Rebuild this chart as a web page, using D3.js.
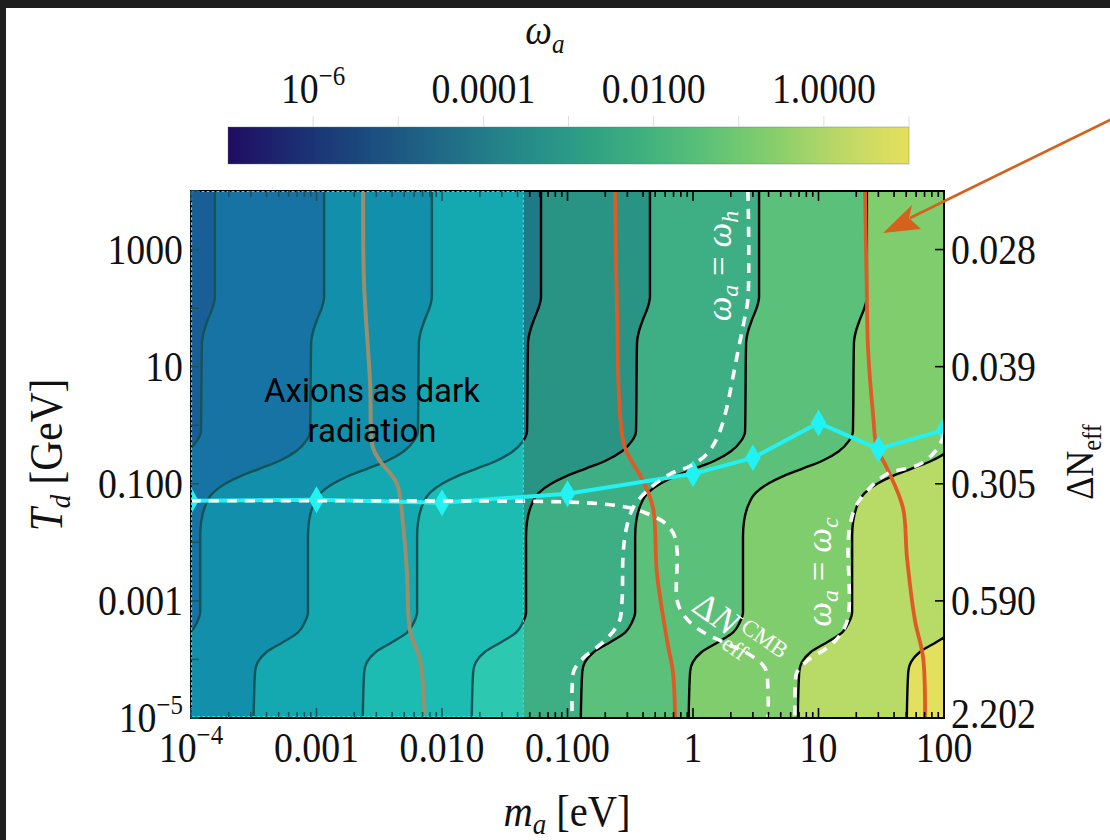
<!DOCTYPE html>
<html>
<head>
<meta charset="utf-8">
<script src="https://cdn.jsdelivr.net/npm/d3@7"></script>
<style>
  body { margin: 0; background: #fff; }
  svg { display: block; }
</style>
</head>
<body>
<script>
// ---- data ----
// decoupling temperature grid (GeV) and the mass ratio m_a(T)/m_a(top) along one omega_a contour
const tempGrid = [1e4, 157, 106, 64, 40, 25, 0.79, 0.54, 0.36, 0.245, 0.18, 0.136, 0.10, 0.070, 0.042, 0.023, 0.013,
  6.4e-4, 4.3e-4, 2.9e-4, 2.0e-4, 1.33e-4, 9e-5, 6.1e-5, 1e-5];
const massRatio = [1, 1, 0.964, 0.880, 0.817, 0.788, 0.774, 0.719, 0.598, 0.438, 0.304, 0.218, 0.163, 0.130, 0.113, 0.105, 0.103,
  0.103, 0.097, 0.086, 0.066, 0.048, 0.041, 0.039, 0.038];
// mass (eV) of each contour at the top of the plot
const contourTopMass = [1.55e-4, 1.15e-3, 8.3e-3, 0.0615, 0.454, 3.36, 24.3, 180, 1330];
// dark radiation panel covers masses below this
const overlayMaxMass = 0.0441;

// grey and orange curves [m_a, T_d]
const greyCurve = [[2.35e-3, 1e4], [2.39e-3, 283], [2.67e-3, 5.6], [2.82e-3, 0.41], [3.21e-3, 0.245], [4.38e-3, 0.0995],
  [4.89e-3, 0.0207], [5.26e-3, 2.93e-3], [5.56e-3, 3.14e-4], [6.68e-3, 9.7e-5], [7.2e-3, 2.02e-5], [7.2e-3, 1e-5]];
const orangeCurveA = [[0.239, 1e4], [0.248, 77.6], [0.262, 1.55], [0.287, 0.41], [0.400, 0.112], [0.480, 0.0389],
  [0.516, 2.93e-3], [0.621, 2.12e-4], [0.693, 5.83e-5], [0.719, 1e-5]];
const orangeCurveB = [[23.5, 1e4], [24.3, 145], [24.8, 20.5], [27.2, 1.55], [29.2, 0.41], [35.1, 0.186], [47.1, 0.0389],
  [50.7, 5.48e-3], [58.7, 4.65e-4], [68.1, 1.09e-4], [70.6, 1e-5]];
// cyan freeze-out line with markers
const cyanMass = [1e-4, 1e-3, 1e-2, 0.1, 1, 3, 10, 30, 100];
const cyanTemp = [0.0514, 0.0535, 0.0475, 0.0676, 0.148, 0.277, 1.09, 0.394, 0.83];
// white dashed lines
const omegaH = [[2.74, 1e4], [2.74, 145], [2.55, 59], [2.28, 18.2], [2.05, 5.62], [1.83, 1.74], [1.58, 0.653], [1.29, 0.322],
  [0.946, 0.201], [0.656, 0.147], [0.430, 0.0757], [0.333, 0.0389], [0.292, 0.0158], [0.277, 5.93e-3], [0.272, 1.02e-3],
  [0.257, 4.3e-4], [0.199, 2.12e-4], [0.133, 1.05e-4], [0.113, 6.56e-5], [0.109, 3.64e-5], [0.109, 1e-5]];
const omegaC = [[100, 0.707], [89.5, 0.41], [64.4, 0.218], [35.1, 0.147], [25.7, 0.0851], [19.9, 0.042], [17.8, 0.0192],
  [17.2, 8.77e-3], [17.2, 5.22e-4], [14.8, 2.58e-4], [11.9, 1.61e-4], [8.24, 9.7e-5], [6.75, 6.1e-5], [6.5, 2.99e-5], [6.5, 1e-5]];
const dNeffCMB = [[1e-4, 0.0512], [4.62e-3, 0.0512], [0.0871, 0.0492], [0.182, 0.0455], [0.315, 0.0389], [0.415, 0.032],
  [0.566, 0.0233], [0.693, 0.0146], [0.747, 7.2e-3], [0.747, 1.02e-3], [0.847, 5.65e-4], [1.14, 3.14e-4], [1.90, 1.82e-4],
  [2.95, 1.14e-4], [3.75, 7.1e-5], [3.96, 2.99e-5], [3.96, 1e-5]];

// ticks
const xTickVals = [1e-4, 1e-3, 1e-2, 0.1, 1, 10, 100];
const xTickLabels = ["10^-4", "0.001", "0.010", "0.100", "1", "10", "100"];
const yTickVals = [1000, 10, 0.1, 0.001, 1e-5];
const yTickLabels = ["1000", "10", "0.100", "0.001", "10^-5"];
const dNeffLabels = ["0.028", "0.039", "0.305", "0.590", "2.202"];
const cbTickVals = [1e-6, 1e-4, 1e-2, 1];
const cbTickLabels = ["10^-6", "0.0001", "0.0100", "1.0000"];

// colours
const bandColors = ["#1b4f8a", "#1c6390", "#1f7090", "#1f7a87", "#2a9484", "#3eae84", "#5ac07a", "#80cd6d", "#b8da66", "#e3e05e"];
const overlayColors = ["#1a5e98", "#1673a3", "#1290ab", "#14a8b0", "#1dbcb3", "#2cc8b0", "#3bd0ad"];
const colorbarStops = ["#1f0c62", "#1c2d73", "#1b4a7e", "#1f6686", "#23828a", "#2b9a86", "#3cae7f", "#5bc177", "#86ce6b", "#bcd866", "#e6e05c"];

// ---- chart ----
const W = 1110, H = 840;
const serif = "'Liberation Serif','DejaVu Serif',serif";

const svg = d3.select("body").append("svg").attr("width", W).attr("height", H);
svg.append("rect").attr("width", W).attr("height", H).attr("fill", "#fff");
svg.append("rect").attr("width", W).attr("height", 8).attr("fill", "#1e1e1e");
svg.append("rect").attr("width", 6).attr("height", H).attr("fill", "#1e1e1e");

const x = d3.scaleLog().domain([1e-4, 100]).range([191, 944]);
const y = d3.scaleLog().domain([1e-5, 1e4]).range([718, 191]);
const [px0, px1] = x.range();
const [py1, py0] = y.range();

const defs = svg.append("defs");
defs.append("clipPath").attr("id", "plotClip").append("rect")
  .attr("x", px0).attr("y", py0).attr("width", px1 - px0).attr("height", py1 - py0);
defs.append("clipPath").attr("id", "overlayClip").append("rect")
  .attr("x", px0).attr("y", py0).attr("width", x(overlayMaxMass) - px0).attr("height", py1 - py0);

const contours = contourTopMass.map(m0 => tempGrid.map((t, i) => ({ m: m0 * massRatio[i], t })));
const areaRight = d3.area().curve(d3.curveMonotoneY)
  .y(d => y(d.t)).x0(d => x(d.m)).x1(px1 + 10);
const contourLine = d3.line().curve(d3.curveMonotoneY).x(d => x(d.m)).y(d => y(d.t));

// main field
const field = svg.append("g").attr("clip-path", "url(#plotClip)");
field.append("rect").attr("x", px0).attr("y", py0).attr("width", px1 - px0).attr("height", py1 - py0).attr("fill", bandColors[0]);
contours.forEach((c, k) => field.append("path").attr("d", areaRight(c)).attr("fill", bandColors[k + 1]));
contours.forEach(c => field.append("path").attr("d", contourLine(c)).attr("fill", "none")
  .attr("stroke", "#000").attr("stroke-width", 2.4));

// dark radiation panel
const over = svg.append("g").attr("clip-path", "url(#overlayClip)");
over.append("rect").attr("x", px0).attr("y", py0).attr("width", px1 - px0).attr("height", py1 - py0).attr("fill", overlayColors[0]);
contours.forEach((c, k) => {
  if (k + 1 < overlayColors.length) over.append("path").attr("d", areaRight(c)).attr("fill", overlayColors[k + 1]);
});
contours.forEach(c => over.append("path").attr("d", contourLine(c)).attr("fill", "none")
  .attr("stroke", "#145457").attr("stroke-width", 2.4));

// curves
const curves = svg.append("g").attr("clip-path", "url(#plotClip)");
const free = d3.line().curve(d3.curveCatmullRom.alpha(0.5)).x(d => x(d[0])).y(d => y(d[1]));
curves.append("path").attr("d", free(greyCurve)).attr("fill", "none").attr("stroke", "#9a8e6c").attr("stroke-width", 4);
[orangeCurveA, orangeCurveB].forEach(c => curves.append("path").attr("d", free(c)).attr("fill", "none")
  .attr("stroke", "#e05a26").attr("stroke-width", 3.8));

const cyanPts = cyanMass.map((m, i) => [m, cyanTemp[i]]);
curves.append("path").attr("d", d3.line().x(d => x(d[0])).y(d => y(d[1]))(cyanPts))
  .attr("fill", "none").attr("stroke", "#22f2f4").attr("stroke-width", 4);
curves.selectAll(".dia").data(cyanPts).join("path")
  .attr("transform", d => `translate(${x(d[0])},${y(d[1])})`)
  .attr("d", d3.symbol(d3.symbolDiamond, 210)).attr("fill", "#22f2f4");

[omegaH, omegaC, dNeffCMB].forEach(c => curves.append("path").attr("d", free(c)).attr("fill", "none")
  .attr("stroke", "#fff").attr("stroke-width", 3.6).attr("stroke-dasharray", "10,8"));

// frame + panel border
svg.append("rect").attr("x", px0).attr("y", py0).attr("width", px1 - px0).attr("height", py1 - py0)
  .attr("fill", "none").attr("stroke", "#000").attr("stroke-width", 2);
svg.append("rect").attr("x", px0 + 0.5).attr("y", py0 + 0.5).attr("width", x(overlayMaxMass) - px0).attr("height", py1 - py0 - 2)
  .attr("fill", "none").attr("stroke", "#2fe0e0").attr("stroke-width", 1.2).attr("stroke-dasharray", "3,2");

// ticks
const ticks = svg.append("g");
const xMinor = [];
for (let e = -4; e <= 1; e++) for (let k = 1; k <= 9; k++) xMinor.push(k * Math.pow(10, e));
xMinor.push(100);
const tickCol = v => (x(v) < x(overlayMaxMass) ? "#1d5560" : "#000");
xMinor.forEach(v => {
  const len = Math.abs(Math.log10(v) - Math.round(Math.log10(v))) < 1e-9 ? 10 : 6;
  ticks.append("line").attr("x1", x(v)).attr("x2", x(v)).attr("y1", py1).attr("y2", py1 - len)
    .attr("stroke", tickCol(v)).attr("stroke-width", 1.6);
  ticks.append("line").attr("x1", x(v)).attr("x2", x(v)).attr("y1", py0).attr("y2", py0 + len)
    .attr("stroke", tickCol(v)).attr("stroke-width", 1.6);
});
for (let e = -5; e <= 4; e++) {
  ticks.append("line").attr("x1", px0).attr("x2", px0 + 8).attr("y1", y(Math.pow(10, e))).attr("y2", y(Math.pow(10, e)))
    .attr("stroke", "#1d5560").attr("stroke-width", 1.5);
}
yTickVals.forEach(v => ticks.append("line").attr("x1", px1).attr("x2", px1 - 9).attr("y1", y(v)).attr("y2", y(v))
  .attr("stroke", "#000").attr("stroke-width", 1.6));

// labels
function label(g, lx, ly, str, size, anchor) {
  const t = g.append("text").attr("transform", `translate(${lx},${ly}) scale(0.9,1)`)
    .attr("text-anchor", anchor).attr("font-family", serif).attr("font-size", size).attr("fill", "#111");
  if (str.startsWith("10^")) {
    t.append("tspan").text("10");
    t.append("tspan").attr("font-size", size * 0.66).attr("dy", -size * 0.42).text(str.slice(3).replace("-", "\u2212"));
  } else {
    t.text(str);
  }
}
const labels = svg.append("g");
xTickVals.forEach((v, i) => label(labels, x(v), 762, xTickLabels[i], 42, "middle"));
yTickVals.forEach((v, i) => label(labels, 183, y(v) + 14, yTickLabels[i], 42, "end"));
yTickVals.forEach((v, i) => label(labels, 951, y(v) + (i === yTickVals.length - 1 ? 10 : 14), dNeffLabels[i], 42, "start"));

// axis titles
const mt = labels.append("text").attr("transform", "translate(567,826) scale(0.9,1)").attr("text-anchor", "middle")
  .attr("font-family", serif).attr("font-size", 45).attr("fill", "#111");
mt.append("tspan").attr("font-style", "italic").text("m");
mt.append("tspan").attr("font-style", "italic").attr("font-size", 30).attr("dy", 8).text("a");
mt.append("tspan").attr("dy", -8).text(" [eV]");

const tt = labels.append("text").attr("transform", "translate(62,455) rotate(-90) scale(0.9,1)").attr("text-anchor", "middle")
  .attr("font-family", serif).attr("font-size", 46).attr("fill", "#111");
tt.append("tspan").attr("font-style", "italic").text("T");
tt.append("tspan").attr("font-style", "italic").attr("font-size", 30).attr("dy", 8).text("d");
tt.append("tspan").attr("dy", -8).text(" [GeV]");

const nt = labels.append("text").attr("transform", "translate(1093,462) rotate(-90) scale(0.9,1)").attr("text-anchor", "middle")
  .attr("font-family", serif).attr("font-size", 40).attr("fill", "#111");
nt.append("tspan").text("\u0394N");
nt.append("tspan").attr("font-size", 27).attr("dy", 8).text("eff");

// colour bar
const cb = d3.scaleLog().domain([1e-7, 10]).range([228, 909]);
const grad = defs.append("linearGradient").attr("id", "cbGrad");
colorbarStops.forEach((c, i) => grad.append("stop").attr("offset", i / (colorbarStops.length - 1)).attr("stop-color", c));
svg.append("rect").attr("x", cb.range()[0]).attr("y", 127).attr("width", cb.range()[1] - cb.range()[0]).attr("height", 37)
  .attr("fill", "url(#cbGrad)").attr("stroke", "#5a7a60").attr("stroke-opacity", 0.4);
for (let e = -6; e <= 1; e++) {
  svg.append("line").attr("x1", cb(Math.pow(10, e))).attr("x2", cb(Math.pow(10, e))).attr("y1", 116).attr("y2", 127)
    .attr("stroke", "#ddd").attr("stroke-width", 1);
}
cbTickVals.forEach((v, i) => label(labels, cb(v), 103, cbTickLabels[i], 42, "middle"));
const wt = labels.append("text").attr("transform", "translate(545,44) scale(0.9,1)").attr("text-anchor", "middle")
  .attr("font-family", serif).attr("font-size", 42).attr("fill", "#111");
wt.append("tspan").attr("font-style", "italic").text("\u03c9");
wt.append("tspan").attr("font-style", "italic").attr("font-size", 28).attr("dy", 9).text("a");

// annotations
const ann = svg.append("g");
ann.append("text").attr("x", 372).attr("y", 402).attr("text-anchor", "middle").attr("font-family", "Roboto, Inter, sans-serif")
  .attr("font-size", 33).attr("fill", "#000").text("Axions as dark");
ann.append("text").attr("x", 372).attr("y", 442).attr("text-anchor", "middle").attr("font-family", "Roboto, Inter, sans-serif")
  .attr("font-size", 33).attr("fill", "#000").text("radiation");

function omegaLabel(cx, cy, sub) {
  const t = ann.append("text").attr("transform", `translate(${cx},${cy}) rotate(-90)`).attr("text-anchor", "middle")
    .attr("font-family", serif).attr("font-size", 35).attr("fill", "#fff");
  t.append("tspan").attr("font-style", "italic").text("\u03c9");
  t.append("tspan").attr("font-style", "italic").attr("font-size", 24).attr("dy", 7).text("a");
  t.append("tspan").attr("dy", -7).text(" = ");
  t.append("tspan").attr("font-style", "italic").text("\u03c9");
  t.append("tspan").attr("font-style", "italic").attr("font-size", 24).attr("dy", 7).text(sub);
}
omegaLabel(731, 266, "h");
omegaLabel(831, 572, "c");

const dl = ann.append("g").attr("transform", "translate(690,610) rotate(35)")
  .attr("font-family", serif).attr("fill", "#fff");
dl.append("text").attr("font-size", 36).text("\u0394").append("tspan").attr("font-style", "italic").text("N");
dl.append("text").attr("x", 52).attr("y", -12).attr("font-size", 23).text("CMB");
dl.append("text").attr("x", 46).attr("y", 13).attr("font-size", 23).text("eff");

// arrow
ann.append("line").attr("x1", 1112).attr("y1", 119).attr("x2", 910).attr("y2", 218)
  .attr("stroke", "#d5621c").attr("stroke-width", 2.6);
ann.append("path").attr("d", d3.line()([[883, 233], [912, 205], [909, 218], [921, 229]]) + "Z").attr("fill", "#d5621c");
</script>
</body>
</html>
